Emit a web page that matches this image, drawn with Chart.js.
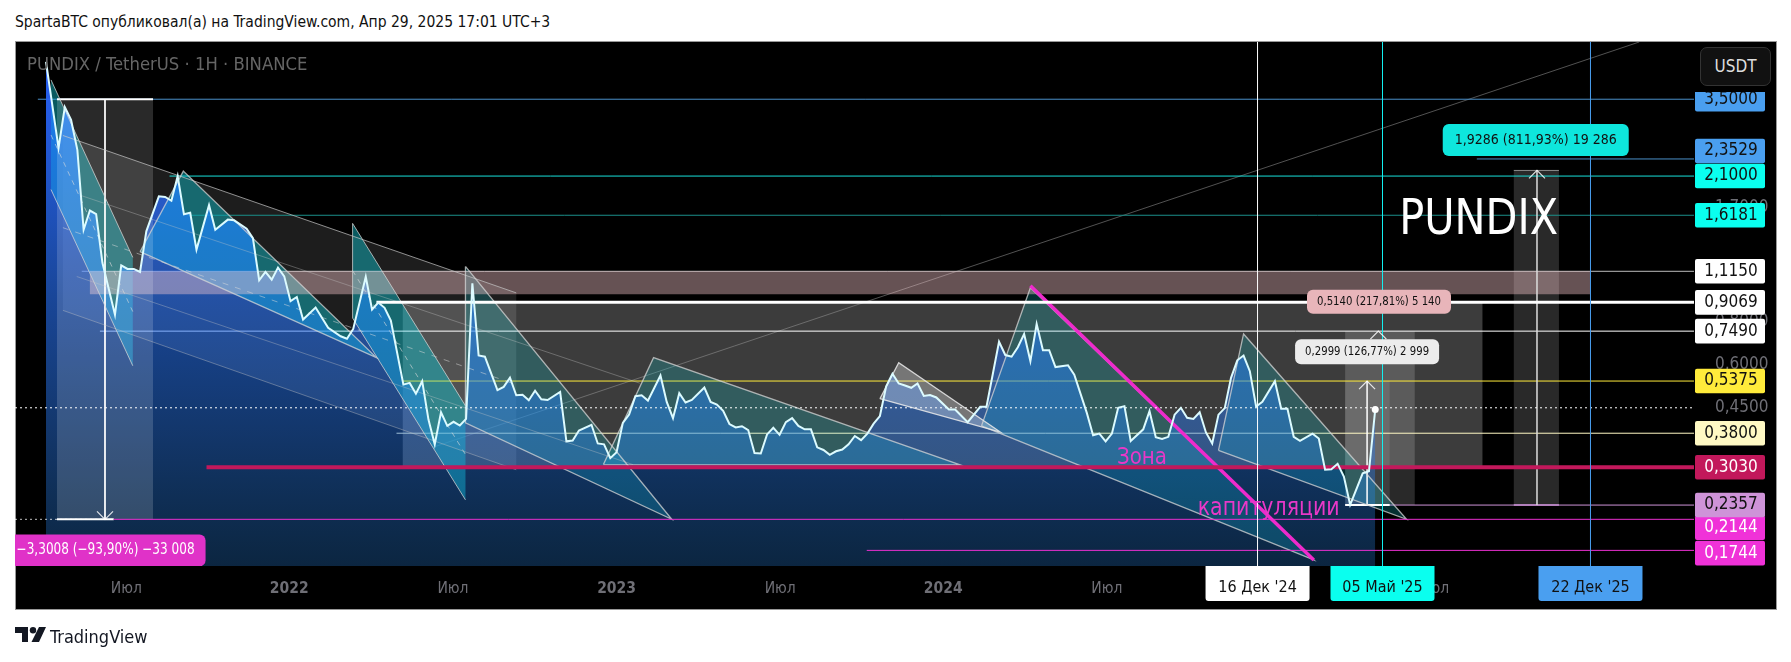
<!DOCTYPE html>
<html>
<head>
<meta charset="utf-8">
<title>PUNDIX</title>
<script src="https://cdn.jsdelivr.net/npm/chart.js@4"></script>
<style>
  html, body { margin: 0; padding: 0; background: #fff; }
  body { width: 1791px; height: 662px; position: relative; overflow: hidden; font-family: "DejaVu Sans Condensed", "DejaVu Sans", sans-serif; }
  #frame { position: absolute; left: 15px; top: 41px; width: 1760px; height: 567px; background: #000; border: 1px solid #999; }
  #pundixChart { position: absolute; left: 0; top: 0; }
  #heading { position: absolute; left: 15px; top: 13px; font-size: 15.5px; color: #111; white-space: nowrap; }
  #unitMask { position: absolute; left: 1695px; top: 42px; width: 80px; height: 50px; background: #000; }
  #unitBtn { position: absolute; left: 5px; top: 5px; width: 69px; height: 37px; background: #111; border: 1px solid #333; border-radius: 7px;
    color: #ddd; font-size: 17px; line-height: 37px; text-align: center; }
  #brand { position: absolute; left: 50px; top: 626px; font-size: 18px; color: #131722; white-space: nowrap; }
  #brandLogo { position: absolute; left: 15px; top: 627px; }
</style>
</head>
<body>
<div id="frame"></div>
<div id="heading">SpartaBTC опубликовал(а) на TradingView.com, Апр 29, 2025 17:01 UTC+3</div>
<canvas id="pundixChart" width="1791" height="662"></canvas>
<div id="unitMask"><div id="unitBtn">USDT</div></div>
<svg id="brandLogo" width="31" height="16" viewBox="0 0 31 16">
  <path d="M0 0H13V15H7V6H0Z M24 0H31L24 15H16.5Z" fill="#131722"/><circle cx="18" cy="3.2" r="3.2" fill="#131722"/>
</svg>
<div id="brand">TradingView</div>
<script>
// x axis is counted in weeks from the first close on the chart
const closeWeeks = [0,2,3,4,5,6,7,8,9,11,12,13,14,15,16,18,19,20,21,22,23,24,26,27,29,30,32,33,34,35,36,37,38,39,40,41,43,45,47,48,49,51,52,53,54,55,
  57,58,59,60,61,62,63,64,65,66,67,68,69,70,72,73,74,75,76,77,78,79,80,82,83,84,85,87,88,89,90,91,92,93,94,95,96,98,99,100,101,102,103,105,
  106,107,108,109,110,111,112,113,114,115,116,117,118,119,120,121,122,123,124,125,126,127,128,129,130,131,132,133,134,135,136,137,138,139,140,141,142,144,145,147,149,150,
  152,153,154,155,156,157,158,159,160,161,163,164,166,167,168,169,170,171,172,173,175,176,177,178,179,180,181,182,183,184,185,186,187,188,189,190,191,192,193,194,196,197,198,
  199,200,202,203,204,205,206,207,208,210,211,212];
const closePrices = [4.49,2.53,3.32,3.05,2.5,1.47,1.67,1.63,1.18,0.836,1.16,1.133,1.133,1.11,1.454,1.835,1.828,1.782,2.1,1.63,1.645,1.288,1.73,1.47,1.572,1.565,1.48,1.39,1.05,1.11,1.055,1.143,1.078,0.914,0.94,0.809,0.876,0.766,0.724,0.712,0.76,1.075,0.865,0.906,0.875,0.804,
  0.525,0.531,0.494,0.537,0.416,0.353,0.437,0.399,0.41,0.4,0.418,1.03,0.637,0.632,0.506,0.517,0.55,0.489,0.491,0.473,0.504,0.476,0.474,0.5,0.36,0.362,0.387,0.402,0.355,0.353,0.322,0.335,0.407,0.43,0.486,0.489,0.472,0.558,0.468,0.42,0.496,0.466,0.474,0.515,
  0.468,0.46,0.441,0.404,0.395,0.398,0.388,0.333,0.332,0.377,0.394,0.376,0.409,0.42,0.399,0.39,0.39,0.346,0.34,0.329,0.337,0.341,0.353,0.373,0.363,0.379,0.405,0.426,0.519,0.564,0.529,0.522,0.514,0.529,0.487,0.49,0.482,0.445,0.445,0.409,0.453,0.453,
  0.698,0.639,0.632,0.673,0.735,0.614,0.785,0.66,0.66,0.59,0.597,0.561,0.435,0.375,0.379,0.36,0.379,0.45,0.455,0.361,0.39,0.44,0.37,0.366,0.371,0.43,0.45,0.421,0.418,0.437,0.382,0.355,0.43,0.449,0.549,0.617,0.637,0.574,0.454,0.468,0.537,0.447,0.447,
  0.371,0.361,0.379,0.367,0.298,0.299,0.31,0.285,0.236,0.291,0.295,0.445];

const xTickWeeks = [12.8,38.8,64.9,91,117.1,143.1,169.2,195.2,221.3];
const xTickLabels = ['Июл','2022','Июл','2023','Июл','2024','Июл','2025','Июл'];
const priceTicks = [1.7,0.8,0.6,0.45];

// horizontal levels: price and the week each one starts at
const levelPrices = [3.5,2.3529,2.1,1.6181,1.115,0.9069,0.749,0.5375,0.38,0.303,0.2357,0.2144,0.1744];
const levelStarts = [-1.3,228.2,19.7,22.6,5.7,52.7,8.6,56.9,55.9,25.6,214,10.8,130.9];
const lastPrice = 0.45;

const dateWeeks = [193.23,213.16,246.33];
const dateLabels = ["16 Дек '24","05 Май '25","22 Дек '25"];

// drawn shapes as [week, price]
const firstChannel = [[0.8,3.98],[13.84,1.223],[13.84,0.595],[0.8,1.92]];
const firstChannelMid = [[0.8,2.76],[13.84,0.853]];
const longChannel = [[2.7,2.75],[75,0.966],[75,0.298],[2.7,0.86]];
const longChannelMids = [[[5.4,1.85],[94.7,0.53]],[[4.9,1.077],[93.6,0.3085]]];
const longChannelDash = [[2.7,1.49],[75,0.525]];
const wedgeOne = [[15,1.27],[21.9,2.17],[52.7,0.628]];
const summerChannel = [[48.9,1.533],[66.9,0.456],[66.9,0.244],[48.9,0.817]];
const summerChannelMid = [[48.9,1.12],[66.9,0.33]];
const wedgeTwo = [[66.9,1.152],[99.8,0.2145],[66.9,0.407]];
const wedgeThree = [[88.9,0.3085],[96.9,0.628],[145.8,0.308]];
const wedgeSmall = [[133,0.478],[136,0.607],[152.2,0.383]];
const wedgeBig = [[149.2,0.399],[157,1.0],[202.2,0.1637]];
const wedgeLast = [[187,0.339],[191,0.735],[217,0.2145]];
const capitulationLine = [[157,1.013],[202.2,0.1637]];
const riseLine = [[61.7,0.346],[254.1,5.12]];

// ranges as week from, week to, price top, price bottom
const dropRange = [1.75,17.07,3.5,0.2144];
const wideRange = [56.9,229.1,0.9069,0.303];
const rangeC = [207.2,218.3,0.749,0.2357];
const rangeD = [207.2,214.3,0.5375,0.2357];
const rangeE = [234.1,241.3,2.18,0.2357];
const supplyBand = [7,246.3,1.115,0.957];

const rangeArrows = [[9.41,0.2144,-1],[210.7,0.5375,1],[212.5,0.749,1],[237.8,2.18,1]];

const noteTexts = ['0,5140 (217,81%) 5 140','0,2999 (126,77%) 2 999','1,9286 (811,93%) 19 286','−3,3008 (−93,90%) −33 008'];
const noteWeeks = [212.6,210.7,237.6,9.5];
const notePrices = [0.91,0.653,2.67,0.1744];
const bigTexts = ['PUNDIX','Зона','капитуляции'];
const bigWeeks = [228.5,174.8,195];
const bigPrices = [1.56,0.3215,0.231];

// styles
const weekMin = -4.944, weekMax = 262.84, priceMin = 0.1572, priceMax = 5.12;
const axisFont = '"DejaVu Sans Condensed", "DejaVu Sans", sans-serif';
const levelColors = ['#4a8fc9','#4a8fc9','#17e0da','#1b8f8a','#bbbbbb','#ffffff','#ffffff','#ffeb3b','#fff9c4','#c2185b','#ce93d8','#ea2fd0','#ea2fd0'];
const levelOnTop = [0,0,0,0,0,1,0,0,0,1,0,1,1];
const levelWidths = [1,1,1,1,1,3,1,1,1,4,1,1,1];
const tagFills = ['#4a9ff0','#4a9ff0','#0affef','#0affef','#ffffff','#ffffff','#ffffff','#ffeb3b','#fff9c4','#c2185b','#ce93d8','#f032d8','#f032d8'];
const tagInks = ['#111','#111','#111','#111','#111','#111','#111','#111','#111','#fff','#111','#fff','#fff'];
const tagNudges = [0,-8,0,0,0,0,0,0,0,0,0,8.5,2.7];
const dateFills = ['#ffffff','#0affef','#4a9ff0'];
const noteFills = ['#e8b5ba','#ececec','#0ee6dd','#e032c8'];
const noteInks = ['#111','#111','#111','#fff'];
const noteSizes = [[144,24,12.5,124],[144,25,12.5,124],[186,32,14.5,162],[200,32,15.5,178]];
const bigSizes = [50,23,25];
const bigWidths = [159,50,142];
const bigInks = ['#ffffff','#e838c8','#e838c8'];
const edgeGrey = 'rgba(215,215,215,0.75)';

const pts = list => list.map(([x, y]) => ({x: x, y: y}));

function shape(list, fillColor, edgeColor, edgeWidth) {
  const data = pts(list);
  if (edgeWidth) data.push(data[0]);
  return { data: data, fill: 'shape', backgroundColor: fillColor, borderColor: edgeColor || 'transparent', borderWidth: edgeWidth || 0, pointRadius: 0 };
}
function box(r, fillColor) {
  return shape([[r[0],r[2]],[r[1],r[2]],[r[1],r[3]],[r[0],r[3]]], fillColor);
}
function path(list, color, width, dash) {
  return { data: pts(list), fill: false, borderColor: color, borderWidth: width, borderDash: dash || [], pointRadius: 0 };
}

const below = [];
below.push(shape(longChannel, 'rgba(255,255,255,0.115)'));
below.push(box(wideRange, 'rgba(255,255,255,0.235)'));
below.push(box(rangeC, 'rgba(255,255,255,0.16)'));
below.push(box(rangeD, 'rgba(255,255,255,0.1)'));
below.push(box(rangeE, 'rgba(255,255,255,0.16)'));
below.push(path(riseLine, 'rgba(150,150,150,0.55)', 1));
// wedges get a teal layer under the area and a cyan one over it
[firstChannel, wedgeOne, summerChannel].forEach(s => below.push(shape(s, 'rgba(38,190,170,0.3)')));
[wedgeTwo, wedgeThree, wedgeBig, wedgeLast].forEach(s => below.push(shape(s, 'rgba(38,190,170,0.15)')));
levelPrices.forEach((p, i) => {
  if (!levelOnTop[i]) below.push(path([[levelStarts[i],p],[weekMax,p]], levelColors[i], 1));
});

// the close series area, its line goes in further up
const closePoints = closeWeeks.map((w, i) => ({x: w, y: closePrices[i]}));
const closeFill = {
  data: closePoints, fill: 'start', borderWidth: 0, pointRadius: 0,
  backgroundColor: ctx => {
    const area = ctx.chart.chartArea;
    if (!area) return 'rgba(41,98,255,0.5)';
    const g = ctx.chart.ctx.createLinearGradient(0, area.top, 0, area.bottom);
    g.addColorStop(0, 'rgba(41,98,255,1)');
    g.addColorStop(0.5, 'rgba(41,115,250,0.6)');
    g.addColorStop(0.75, 'rgba(41,120,235,0.45)');
    g.addColorStop(1, 'rgba(38,125,215,0.3)');
    return g;
  }
};

const above = [];
[firstChannel, wedgeOne, summerChannel].forEach(s => above.push(shape(s, 'rgba(0,190,230,0.25)')));
[wedgeTwo, wedgeThree, wedgeBig, wedgeLast].forEach(s => above.push(shape(s, 'rgba(0,190,230,0.12)')));
above.push(shape(wedgeSmall, 'rgba(255,255,255,0.3)'));
above.push(box(supplyBand, 'rgba(255,205,210,0.4)'));
above.push(box(dropRange, 'rgba(255,255,255,0.16)'));
above.push(path([[1.75,3.5],[17.07,3.5]], '#ffffff', 2));
above.push(path([[1.75,0.2144],[10.8,0.2144]], '#ffffff', 2));
above.push(path([[9.41,3.5],[9.41,0.2144]], '#ffffff', 1));
above.push(path([[207.2,0.2357],[214.3,0.2357]], '#ffffff', 2));
above.push(path([[210.7,0.5375],[210.7,0.2357]], '#ffffff', 1.5));
above.push(path([[234.1,2.18],[241.3,2.18]], 'rgba(220,220,220,0.6)', 1));
above.push(path([[234.1,0.2357],[241.3,0.2357]], 'rgba(206,147,216,0.7)', 2));
above.push(path([[237.8,2.18],[237.8,0.2357]], 'rgba(220,220,220,0.75)', 1));
[firstChannel, summerChannel].forEach(s => {
  above.push(path([s[0],s[1]], edgeGrey, 1));
  above.push(path([s[2],s[3]], edgeGrey, 1));
});
above.push(path([summerChannel[3],summerChannel[0]], edgeGrey, 1));
above.push(path(firstChannelMid, 'rgba(220,220,220,0.6)', 1, [5,5]));
above.push(path(summerChannelMid, 'rgba(220,220,220,0.6)', 1, [5,5]));
above.push(path(longChannelDash, 'rgba(220,220,220,0.5)', 1, [6,7]));
above.push(path([longChannel[0],longChannel[1]], 'rgba(200,200,200,0.7)', 1));
above.push(path([longChannel[3],longChannel[2]], 'rgba(200,200,200,0.4)', 1));
longChannelMids.forEach(m => above.push(path(m, 'rgba(200,200,200,0.35)', 1)));
[wedgeOne, wedgeTwo, wedgeThree, wedgeBig, wedgeLast].forEach(s => above.push(shape(s, 'transparent', edgeGrey, 1.3)));
above.push(shape(wedgeSmall, 'transparent', 'rgba(235,235,235,0.85)', 1.3));
above.push(path(capitulationLine, '#ee2bcc', 3.5));
levelPrices.forEach((p, i) => {
  if (levelOnTop[i]) above.push(path([[levelStarts[i],p],[weekMax,p]], levelColors[i], levelWidths[i]));
});
above.push(path([[weekMin,lastPrice],[weekMax,lastPrice]], '#ffffff', 1, [2,3]));
above.push(path([[weekMin,0.2144],[10.8,0.2144]], 'rgba(255,255,255,0.75)', 1, [2,3]));
dateWeeks.forEach((w, i) => above.push(path([[w,priceMin],[w,priceMax]], ['#ffffff','#12f0f0','#4a9ff0'][i], 1)));
above.push({ data: closePoints, fill: false, borderColor: '#dcfbff', borderWidth: 2, pointRadius: 0 });
above.push({ data: [{x: closeWeeks[closeWeeks.length-1], y: closePrices[closePrices.length-1]}], showLine: false, pointRadius: 3.5, pointBackgroundColor: '#fff', pointBorderWidth: 0 });

const allSets = below.concat([closeFill], above);
allSets.forEach((d, i) => { d.order = -i; });

function rounded(c, x, y, w, h, r) {
  c.beginPath();
  c.roundRect(x, y, w, h, r);
  c.fill();
}

// tags, boxes and notes sit on top of the library's drawing
const overlayPlugin = {
  id: 'overlay',
  afterDraw(chart) {
    const c = chart.ctx, xs = chart.scales.x, ys = chart.scales.y, area = chart.chartArea;
    c.save();
    c.textAlign = 'center';
    c.textBaseline = 'middle';

    // arrow heads of the measured ranges
    c.lineWidth = 1.2;
    c.strokeStyle = 'rgba(255,255,255,0.85)';
    rangeArrows.forEach(a => {
      const x = xs.getPixelForValue(a[0]);
      const y = ys.getPixelForValue(a[1]);
      const d = a[2] > 0 ? 8 : -8;
      c.beginPath();
      c.moveTo(x - 8, y + d);
      c.lineTo(x, y);
      c.lineTo(x + 8, y + d);
      c.stroke();
    });

    // big chart texts
    bigTexts.forEach((t, i) => {
      c.font = bigSizes[i] + 'px ' + axisFont;
      c.fillStyle = bigInks[i];
      c.fillText(t, xs.getPixelForValue(bigWeeks[i]), ys.getPixelForValue(bigPrices[i]), bigWidths[i]);
    });

    c.fillStyle = '#666';
    c.textAlign = 'left';
    c.font = '18.3px ' + axisFont;
    c.fillText('PUNDIX / TetherUS · 1H · BINANCE', area.left + 12, area.top + 23);
    c.textAlign = 'center';

    // measure notes
    c.save();
    c.beginPath();
    c.rect(area.left, area.top, area.right - area.left, area.bottom - area.top);
    c.clip();
    noteTexts.forEach((t, i) => {
      const x = xs.getPixelForValue(noteWeeks[i]), y = ys.getPixelForValue(notePrices[i]);
      const s = noteSizes[i];
      c.fillStyle = noteFills[i];
      rounded(c, x - s[0] / 2, y - s[1] / 2, s[0], s[1], 6);
      c.fillStyle = noteInks[i];
      c.font = s[2] + 'px ' + axisFont;
      c.fillText(t, x, y, s[3]);
    });
    c.restore();

    // date boxes under the plot
    c.font = '16px ' + axisFont;
    dateWeeks.forEach((w, i) => {
      const x = xs.getPixelForValue(w);
      c.fillStyle = dateFills[i];
      rounded(c, x - 52, area.bottom, 104, 35, [0, 0, 3, 3]);
      c.fillStyle = '#111';
      c.fillText(dateLabels[i], x, area.bottom + 22);
    });

    // price tags, lowest first so the higher ones overlap them
    for (let i = levelPrices.length - 1; i >= 0; i--) {
      const y = ys.getPixelForValue(levelPrices[i]) + tagNudges[i];
      c.fillStyle = tagFills[i];
      rounded(c, area.right + 1, y - 12.3, 70, 24.6, 2);
      c.fillStyle = tagInks[i];
      c.font = '17px ' + axisFont;
      c.fillText(levelPrices[i].toFixed(4).replace('.', ','), area.right + 37, y);
    }
    c.restore();
  }
};

new Chart(document.getElementById('pundixChart'), {
  type: 'line',
  data: { datasets: allSets },
  options: {
    responsive: false,
    animation: false,
    events: [],
    layout: { padding: { left: 15, top: 42, right: 15, bottom: 54 } },
    plugins: { legend: { display: false }, tooltip: { enabled: false } },
    elements: { line: { tension: 0 } },
    scales: {
      x: {
        type: 'linear', min: weekMin, max: weekMax,
        grid: { display: false }, border: { display: false },
        afterBuildTicks: axis => { axis.ticks = xTickWeeks.map(v => ({value: v})); },
        afterFit: axis => { axis.height = 42; },
        ticks: {
          autoSkip: false, maxRotation: 0, padding: 6, color: '#6f6f76',
          font: ctx => ({ family: axisFont, size: 15.5, weight: xTickLabels[ctx.index] && xTickLabels[ctx.index].length === 4 ? 'bold' : 'normal' }),
          callback: (v, i) => xTickLabels[i]
        }
      },
      y: {
        type: 'logarithmic', position: 'right', min: priceMin, max: priceMax,
        grid: { display: false }, border: { display: false },
        afterBuildTicks: axis => { axis.ticks = priceTicks.map(v => ({value: v})); },
        afterFit: axis => { axis.width = 82; },
        ticks: {
          autoSkip: false, padding: 13, color: '#6f6f76', font: { family: axisFont, size: 17 },
          callback: v => v.toFixed(4).replace('.', ',')
        }
      }
    }
  },
  plugins: [overlayPlugin]
});
</script>
</body>
</html>
